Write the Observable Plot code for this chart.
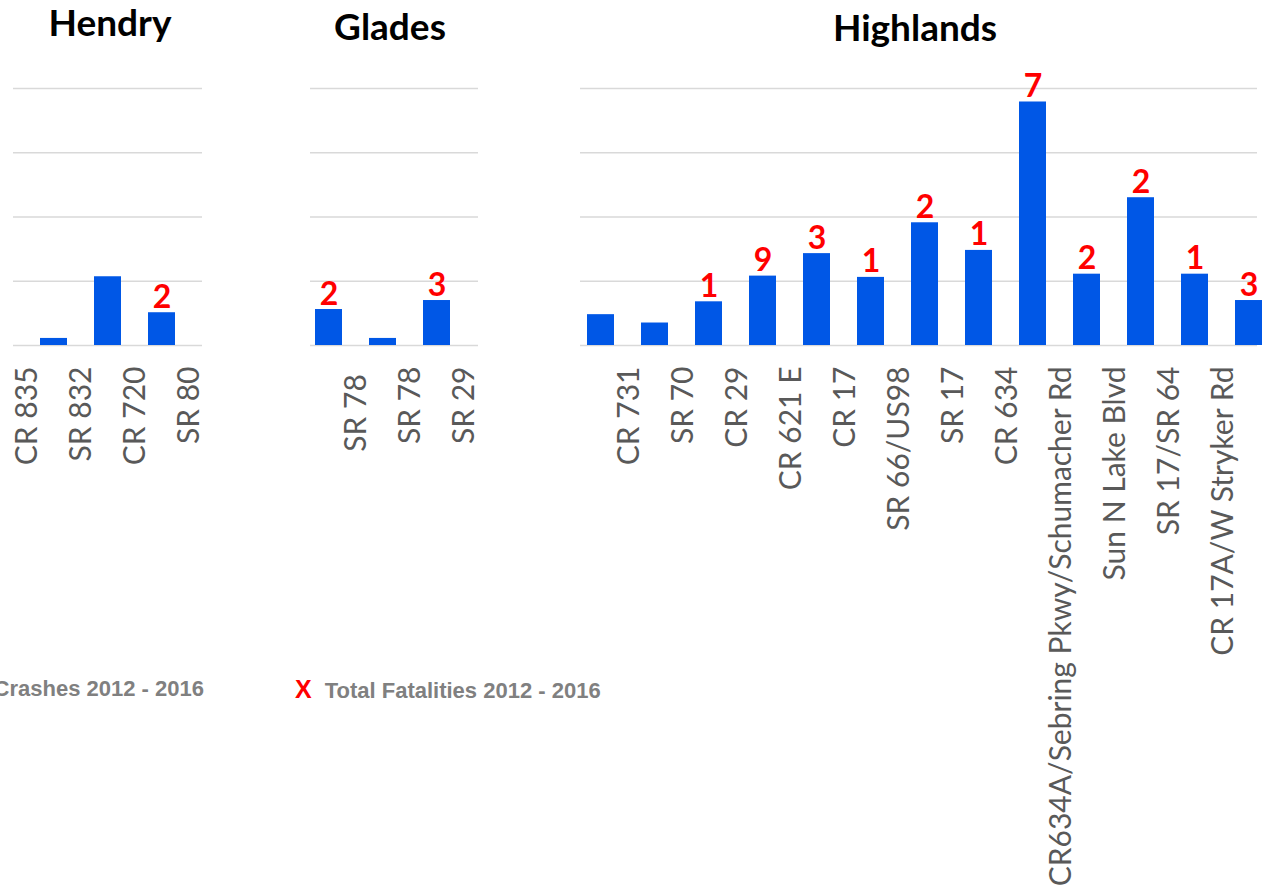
<!DOCTYPE html>
<html>
<head>
<meta charset="utf-8">
<script src="https://cdn.jsdelivr.net/npm/d3@7"></script>
<script src="https://cdn.jsdelivr.net/npm/@observablehq/plot@0.6"></script>
<style>
  html, body { margin: 0; padding: 0; background: #fff; }
  #wrap { position: relative; width: 1266px; height: 896px; overflow: hidden; background: #fff; }
  .panel { position: absolute; top: 0; }
  .title { position: absolute; width: 300px; text-align: center; font-family: Lato, "Open Sans", sans-serif;
           font-weight: 700; font-size: 37px; line-height: 37px; color: #000; white-space: nowrap; }
  .legend { position: absolute; font-family: "Liberation Sans", Arial, sans-serif; font-weight: 700;
            font-size: 22px; line-height: 24px; color: #808080; white-space: nowrap; }
</style>
</head>
<body>
<div id="wrap"></div>
<script>
// ---- data ----
const yTicks = [0, 10, 20, 30, 40];

const hendryRoads = ["CR 835", "SR 832", "CR 720", "SR 80"];
const hendryCrashes = [0, 1.1, 10.7, 5.1];
const hendryFatalities = [null, null, null, 2];

const gladesRoads = ["SR 78 ", "SR 78", "SR 29"];
const gladesCrashes = [5.6, 1.1, 7.0];
const gladesFatalities = [2, null, 3];

const highlandsRoads = ["CR 731", "SR 70", "CR 29", "CR 621 E", "CR 17", "SR 66/US98", "SR 17", "CR 634",
  "CR634A/Sebring Pkwy/Schumacher Rd", "Sun N Lake Blvd", "SR 17/SR 64", "CR 17A/W Stryker Rd", ""];
const highlandsCrashes = [4.8, 3.5, 6.8, 10.8, 14.3, 10.6, 19.1, 14.8, 37.9, 11.1, 23.0, 11.1, 7.0];
const highlandsFatalities = [null, null, 1, 9, 3, 1, 2, 1, 7, 2, 2, 1, 3];

const panelTitles = ["Hendry", "Glades", "Highlands"];
const legendLabels = ["Total Crashes 2012 - 2016", "Total Fatalities 2012 - 2016"];

// ---- drawing ----
const wrap = document.getElementById("wrap");
const BLUE = "#0057e6";
const GRID = "#d9d9d9";

function makePanel({roads, crashes, fatalities, left, width, marginLeft, marginRight, xRange, labelDx}) {
  const rows = roads.map((r, i) => ({road: r, crashes: crashes[i], fatalities: fatalities[i]}));
  const chart = Plot.plot({
    width,
    height: 896,
    marginTop: 88,
    marginBottom: 551,
    marginLeft,
    marginRight,
    style: {fontFamily: "Lato, 'Open Sans', sans-serif", background: "transparent", overflow: "hidden"},
    x: {type: "band", domain: roads, range: xRange, paddingInner: 0.5, paddingOuter: 0.25, axis: null},
    y: {domain: [0, 40], axis: null},
    marks: [
      Plot.ruleY(yTicks, {stroke: GRID, strokeWidth: 1.5}),
      Plot.barY(rows, {x: "road", y: "crashes", fill: BLUE}),
      Plot.text(rows.filter(d => d.fatalities != null), {
        x: "road", y: "crashes", text: d => String(d.fatalities),
        fill: "#ff0000", fontWeight: 700, fontSize: 32, lineAnchor: "bottom", dy: -5,
        fontFamily: "Lato, 'Open Sans', sans-serif"
      }),
      Plot.axisX({
        tickRotate: -90, tickSize: 0, tickPadding: 21, fontSize: 30, color: "#595959",
        dx: labelDx, fontFamily: "Lato, 'Open Sans', sans-serif", label: null
      })
    ]
  });
  chart.classList.add("panel");
  chart.style.left = left + "px";
  wrap.appendChild(chart);
}

makePanel({roads: hendryRoads, crashes: hendryCrashes, fatalities: hendryFatalities,
  left: 0, width: 205, marginLeft: 13, marginRight: 3, xRange: [-29.4, 189.6], labelDx: 27});
makePanel({roads: gladesRoads, crashes: gladesCrashes, fatalities: gladesFatalities,
  left: 290, width: 200, marginLeft: 20, marginRight: 12, xRange: [10.6, 174.9], labelDx: 27});
makePanel({roads: highlandsRoads, crashes: highlandsCrashes, fatalities: highlandsFatalities,
  left: 560, width: 706, marginLeft: 20, marginRight: 9, xRange: [9, 720.75], labelDx: 28});

// titles
const titlePos = [[110, 3], [390, 7], [915, 8]];
panelTitles.forEach((t, i) => {
  const d = document.createElement("div");
  d.className = "title";
  d.textContent = t;
  d.style.left = (titlePos[i][0] - 150) + "px";
  d.style.top = titlePos[i][1] + "px";
  wrap.appendChild(d);
});

// legend
const lg1 = document.createElement("div");
lg1.className = "legend";
lg1.style.right = (1266 - 204) + "px";
lg1.style.top = "677px";
lg1.innerHTML = `<span style="display:inline-block;width:15px;height:15px;background:${BLUE};margin-right:12px;vertical-align:-1px"></span>` + legendLabels[0];
wrap.appendChild(lg1);

const lg2 = document.createElement("div");
lg2.className = "legend";
lg2.style.left = "295px";
lg2.style.top = "677px";
lg2.innerHTML = `<span style="color:#ff0000;font-size:25px;margin-right:13px">X</span>` + legendLabels[1];
wrap.appendChild(lg2);
</script>
</body>
</html>
